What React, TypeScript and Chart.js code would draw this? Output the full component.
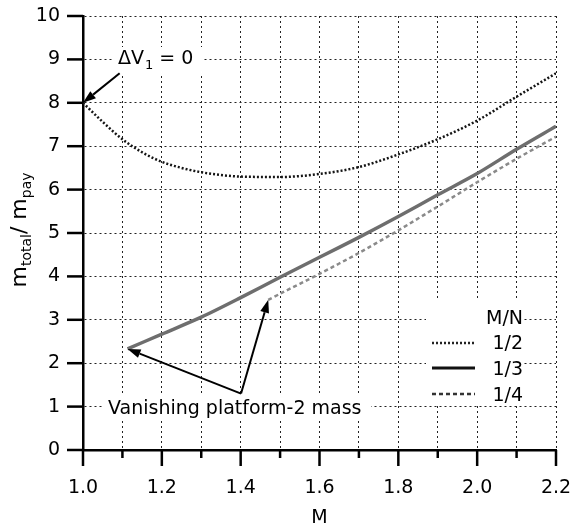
import React, { useEffect, useRef } from 'react';
import { Chart, registerables } from 'chart.js';

Chart.register(...registerables);

// ---- data ----
const halfM = [1.0, 1.05, 1.1, 1.15, 1.2, 1.25, 1.3, 1.4, 1.5, 1.6, 1.7, 1.8, 1.9, 2.0, 2.1, 2.2];
const halfV = [8.0, 7.56, 7.16, 6.86, 6.64, 6.50, 6.40, 6.30, 6.29, 6.36, 6.52, 6.81, 7.16, 7.59, 8.14, 8.68];

const thirdM = [1.113, 1.2, 1.3, 1.4, 1.5, 1.6, 1.7, 1.8, 1.9, 2.0, 2.1, 2.2];
const thirdV = [2.33, 2.67, 3.06, 3.51, 3.98, 4.44, 4.90, 5.38, 5.88, 6.37, 6.93, 7.46];

const quarterM = [1.47, 1.5, 1.6, 1.7, 1.8, 1.9, 2.0, 2.1, 2.2];
const quarterV = [3.46, 3.60, 4.06, 4.54, 5.06, 5.61, 6.17, 6.71, 7.22];

const seriesLabels = ['1/2', '1/3', '1/4'];
const legendTitle = 'M/N';
const xAxisTitle = 'M';
const yMin = 0;
const yMax = 10;
const xMin = 1.0;
const xMax = 2.2;
const deltaVText = ['\u0394V', '1', ' = 0'];
const vanishText = 'Vanishing platform-2 mass';

const FONT = "'DejaVu Sans', sans-serif";

const zip = (xs: number[], ys: number[]) => xs.map((x, i) => ({ x, y: ys[i] }));

export default function App() {
  const ref = useRef<HTMLCanvasElement>(null);

  useEffect(() => {
    const canvas = ref.current!;
    const ctx2 = canvas.getContext('2d')!;

    const line = (c: CanvasRenderingContext2D, x1: number, y1: number, x2: number, y2: number) => {
      c.beginPath();
      c.moveTo(x1, y1);
      c.lineTo(x2, y2);
      c.stroke();
    };

    const arrow = (c: CanvasRenderingContext2D, x1: number, y1: number, x2: number, y2: number) => {
      const ang = Math.atan2(y2 - y1, x2 - x1);
      const L = 13;
      const W = 4.5;
      const bx = x2 - L * Math.cos(ang);
      const by = y2 - L * Math.sin(ang);
      c.lineWidth = 2;
      c.strokeStyle = '#000';
      line(c, x1, y1, bx, by);
      c.fillStyle = '#000';
      c.beginPath();
      c.moveTo(x2, y2);
      c.lineTo(bx + W * Math.sin(ang), by - W * Math.cos(ang));
      c.lineTo(bx - W * Math.sin(ang), by + W * Math.cos(ang));
      c.closePath();
      c.fill();
    };

    const overlay = {
      id: 'overlay',
      afterDraw(chart: any) {
        const c: CanvasRenderingContext2D = chart.ctx;
        const xs = chart.scales.x;
        const ys = chart.scales.y;
        const ca = chart.chartArea;
        c.save();
        c.setLineDash([]);

        // tick marks
        c.strokeStyle = '#000';
        c.lineWidth = 2.5;
        ys.ticks.forEach((t: any) => {
          const y = ys.getPixelForValue(t.value);
          line(c, ca.left - 16, y, ca.left, y);
        });
        xs.ticks.forEach((t: any) => {
          const x = xs.getPixelForValue(t.value);
          const major = Math.round(t.value * 10) % 2 === 0;
          line(c, x, ca.bottom, x, ca.bottom + (major ? 16 : 8));
        });

        // white backgrounds behind annotations / legend
        c.fillStyle = '#fff';
        c.fillRect(114, 47, 88, 26);
        c.fillRect(104, 396, 267, 22);
        c.fillRect(426, 301, 98, 105);

        c.fillStyle = '#000';
        c.textAlign = 'left';
        c.textBaseline = 'alphabetic';

        // delta V annotation
        c.font = `19px ${FONT}`;
        let tx = 118;
        c.fillText(deltaVText[0], tx, 64);
        tx += c.measureText(deltaVText[0]).width + 1;
        c.font = `13px ${FONT}`;
        c.fillText(deltaVText[1], tx, 69);
        tx += c.measureText(deltaVText[1]).width;
        c.font = `19px ${FONT}`;
        c.fillText(deltaVText[2], tx, 64);
        arrow(c, xs.getPixelForValue(1.093), ys.getPixelForValue(8.68), xs.getPixelForValue(halfM[0]), ys.getPixelForValue(halfV[0]));

        // vanishing annotation
        c.font = `19px ${FONT}`;
        c.fillText(vanishText, 108, 414);
        const tailX = xs.getPixelForValue(1.401);
        const tailY = ys.getPixelForValue(1.3);
        arrow(c, tailX, tailY, xs.getPixelForValue(thirdM[0]), ys.getPixelForValue(thirdV[0]));
        arrow(c, tailX, tailY, xs.getPixelForValue(quarterM[0]), ys.getPixelForValue(quarterV[0]));

        // legend
        c.font = `19px ${FONT}`;
        c.textAlign = 'right';
        c.fillStyle = '#000';
        c.fillText(legendTitle, 523, 324);
        const rows = [343, 368, 394];
        const base = [349, 375, 401];
        const styles = [
          { dash: [2, 2], w: 2.5, col: '#222' },
          { dash: [], w: 3, col: '#111' },
          { dash: [4, 3], w: 2.5, col: '#333' },
        ];
        seriesLabels.forEach((lab, i) => {
          c.save();
          c.setLineDash(styles[i].dash);
          c.lineWidth = styles[i].w;
          c.strokeStyle = styles[i].col;
          line(c, 432, rows[i], 475, rows[i]);
          c.restore();
          c.fillText(lab, 523, base[i]);
        });

        // x title
        c.textAlign = 'center';
        c.font = `19px ${FONT}`;
        c.fillText(xAxisTitle, (ca.left + ca.right) / 2, 523);

        // y title (rotated, with subscripts)
        const parts: [string, number, number][] = [
          ['m', 22, 0],
          ['total', 14, 5],
          ['/', 22, 0],
          [' m', 22, 0],
          ['pay', 14, 5],
        ];
        let total = 0;
        parts.forEach(([s, f]) => {
          c.font = `${f}px ${FONT}`;
          total += c.measureText(s).width;
        });
        c.translate(26, (ca.top + ca.bottom) / 2 - 3);
        c.rotate(-Math.PI / 2);
        c.textAlign = 'left';
        let px = -total / 2;
        parts.forEach(([s, f, dy]) => {
          c.font = `${f}px ${FONT}`;
          c.fillText(s, px, dy);
          px += c.measureText(s).width;
        });
        c.restore();
      },
    };

    const chart = new Chart(ctx2, {
      type: 'line',
      data: {
        datasets: [
          {
            label: seriesLabels[0],
            data: zip(halfM, halfV),
            borderColor: '#151515',
            borderWidth: 2.5,
            borderDash: [2, 2],
            pointRadius: 0,
            fill: false,
            cubicInterpolationMode: 'monotone',
          },
          {
            label: seriesLabels[1],
            data: zip(thirdM, thirdV),
            borderColor: '#6e6e6e',
            borderWidth: 3.5,
            pointRadius: 0,
            fill: false,
            tension: 0.3,
          },
          {
            label: seriesLabels[2],
            data: zip(quarterM, quarterV),
            borderColor: '#8a8a8a',
            borderWidth: 2.5,
            borderDash: [4, 3],
            pointRadius: 0,
            fill: false,
            tension: 0.3,
          },
        ],
      },
      options: {
        responsive: false,
        animation: false,
        layout: { padding: { left: 0, top: 16, right: 18, bottom: 0 } },
        plugins: { legend: { display: false }, tooltip: { enabled: false } },
        scales: {
          x: {
            type: 'linear',
            min: xMin,
            max: xMax,
            afterFit: (s: any) => { s.height = 75; s.paddingLeft = 0; s.paddingRight = 0; },
            border: { display: true, color: '#000', width: 2.5, dash: [2, 3] },
            grid: {
              color: '#222',
              lineWidth: 1,
              drawTicks: true,
              tickLength: 16,
              tickColor: 'rgba(0,0,0,0)',
            },
            ticks: {
              stepSize: 0.1,
              autoSkip: false,
              maxRotation: 0,
              padding: 11,
              color: '#000',
              font: { family: FONT, size: 19 },
              callback: (v: any) => {
                const n = Math.round(Number(v) * 10);
                return n % 2 === 0 ? (n / 10).toFixed(1) : '';
              },
            },
          },
          y: {
            type: 'linear',
            min: yMin,
            max: yMax,
            afterFit: (s: any) => { s.width = 83; s.paddingTop = 0; s.paddingBottom = 0; },
            border: { display: true, color: '#000', width: 2.5, dash: [2, 3] },
            grid: {
              color: '#222',
              lineWidth: 1,
              drawTicks: true,
              tickLength: 16,
              tickColor: 'rgba(0,0,0,0)',
            },
            ticks: {
              stepSize: 1,
              padding: 7,
              color: '#000',
              font: { family: FONT, size: 19 },
            },
          },
        },
      },
      plugins: [overlay],
    } as any);

    return () => chart.destroy();
  }, []);

  return (
    <div style={{ position: 'fixed', left: 0, top: 0, width: 574, height: 525, background: '#fff' }}>
      <canvas ref={ref} width={574} height={525} style={{ display: 'block' }} />
    </div>
  );
}
